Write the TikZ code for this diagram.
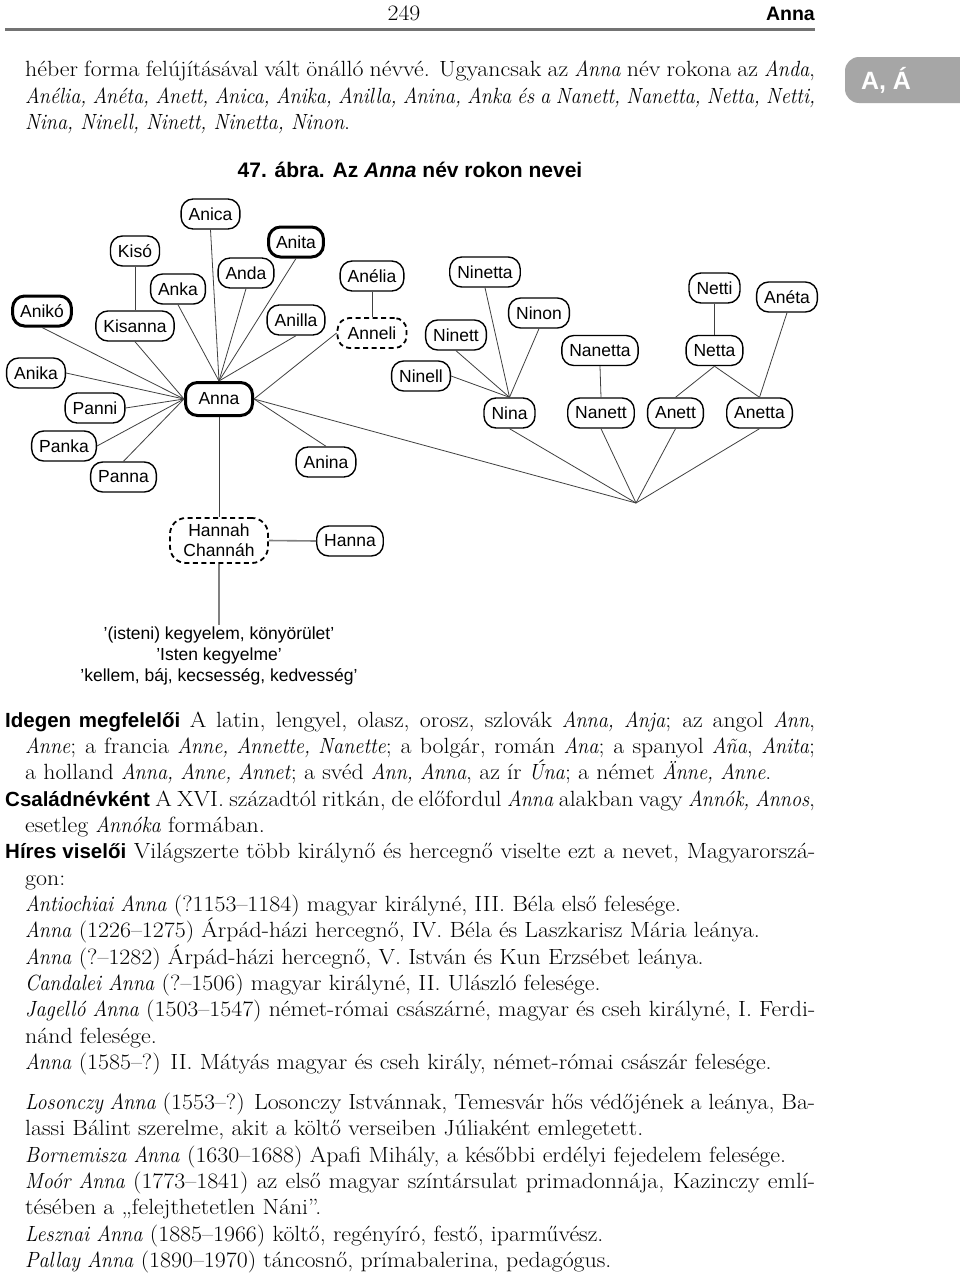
\documentclass[tikz,border=0pt]{standalone}
\usepackage{fontspec}
\newfontfamily\dsans{Liberation Sans}
\newfontfamily\bodyrm{Latin Modern Roman}[UprightFeatures={FakeStretch=1.085}, ItalicFeatures={FakeStretch=0.92}]
\newcommand\bodyfs{\bodyrm\fontsize{22}{26}\selectfont}
\newcommand\lab[1]{{\dsans\bfseries\fontsize{20.5}{26}\selectfont #1}}
\newcommand\JL[4]{\node[ln] (#1) at (#2) {\makebox[#3pt][s]{#4}};}
\newcommand\PL[3]{\node[ln] (#1) at (#2) {#3};}
\begin{document}
\begin{tikzpicture}[x=1pt,y=-1pt,
  nm/.style={draw=black, rounded corners=12pt, minimum height=30pt, inner xsep=7.5pt, inner ysep=0pt, line width=1.4pt, font=\dsans\fontsize{17.5}{21}\selectfont, fill=white},
  thk/.style={nm, line width=3pt},
  dsh/.style={nm, dash pattern=on 5pt off 3.5pt, line width=1.8pt},
  cn/.style={draw=black!75, line width=0.8pt},
  gcn/.style={draw=black!50, line width=1.6pt},
  ln/.style={anchor=base west, inner sep=0pt, font=\bodyfs},
]
\useasboundingbox (0,0) rectangle (960,1282);
\fill[white] (0,0) rectangle (960,1282);
% header
\node[anchor=base, inner sep=0pt, font=\bodyfs] (pg) at (404,20) {249};
\node[anchor=base east, inner sep=0pt, font=\dsans\bfseries\fontsize{19.5}{22}\selectfont] (hd) at (815,20) {Anna};
\draw[line width=3pt, black!55] (5,29) -- (815,29);
% tab
\fill[black!35, rounded corners=14pt] (845,57) rectangle (990,103);
\node[text=white, font=\dsans\bfseries\fontsize{25}{27}\selectfont, inner sep=0pt] (tab) at (886,80) {A, Á};
% paragraph 1
\JL{l1}{25,76.7}{790}{héber forma felújításával vált önálló névvé. Ugyancsak az \textit{Anna} név rokona az \textit{Anda},}
\JL{l2}{25,103}{790}{\textit{Anélia, Anéta, Anett, Anica, Anika, Anilla, Anina, Anka és a Nanett, Nanetta, Netta, Netti,}}
\PL{l3}{25,129.3}{\textit{Nina, Ninell, Ninett, Ninetta, Ninon}.}
% caption
\node[anchor=base, inner sep=0pt, font=\dsans\bfseries\fontsize{21}{24}\selectfont] (cap) at (410,177) {47. ábra. Az \textit{Anna} név rokon nevei};
% diagram nodes
\node[nm] (anica) at (210.5,214) {Anica};
\node[nm] (kiso) at (135,251) {Kisó};
\node[thk] (anita) at (296,242) {Anita};
\node[nm] (anda) at (246,273) {Anda};
\node[nm] (anka) at (178,289) {Anka};
\node[nm] (anelia) at (372,276) {Anélia};
\node[nm] (ninetta) at (485,272) {Ninetta};
\node[nm] (netti) at (714.5,288) {Netti};
\node[nm] (aneta) at (787,297) {Anéta};
\node[thk] (aniko) at (42,311) {Anikó};
\node[nm] (kisanna) at (135,326) {Kisanna};
\node[nm] (anilla) at (296,320) {Anilla};
\node[dsh, minimum width=69pt] (anneli) at (372,333) {Anneli};
\node[nm] (ninon) at (539,313) {Ninon};
\node[nm] (ninett) at (456,335) {Ninett};
\node[nm] (nanetta) at (600,350.5) {Nanetta};
\node[nm] (netta) at (714.5,350.5) {Netta};
\node[nm] (anika) at (36,373) {Anika};
\node[nm] (ninell) at (421,376) {Ninell};
\node[nm] (panni) at (95,408) {Panni};
\node[thk, minimum width=67pt, minimum height=33pt] (anna) at (219,399) {Anna};
\node[nm] (nina) at (509.5,413) {Nina};
\node[nm] (nanett) at (601,413) {Nanett};
\node[nm] (anett) at (675.5,413) {Anett};
\node[nm] (anetta) at (759.5,413) {Anetta};
\node[nm] (panka) at (64,446) {Panka};
\node[nm] (panna) at (123.5,477) {Panna};
\node[nm] (anina) at (326,462) {Anina};
\node[dsh, minimum width=98pt, minimum height=45pt, align=center, rounded corners=16pt] (hannah) at (219,540.5) {Hannah\\[-1pt]Channáh};
\node[nm] (hanna) at (350,541) {Hanna};
\coordinate (J) at (636,503);
\coordinate (mtop) at (219,625);
\node[align=center, inner sep=0pt, font=\dsans\fontsize{17.5}{21}\selectfont, anchor=north] (mean) at (219,627) {’(isteni) kegyelem, könyörület’\\’Isten kegyelme’\\’kellem, báj, kecsesség, kedvesség’};
% connectors
\draw[cn] (kiso.south) -- (kisanna.north);
\draw[cn] (aniko.south) -- (anna.west);
\draw[cn] (kisanna.south) -- (anna.west);
\draw[cn] (anika.east) -- (anna.west);
\draw[cn] (panni.east) -- (anna.west);
\draw[cn] (panka.east) -- (anna.west);
\draw[cn] (panna.north) -- (anna.west);
\draw[cn] (anka.south) -- (anna.north);
\draw[cn] (anica.south) -- (anna.north);
\draw[cn] (anda.south) -- (anna.north);
\draw[cn] (anita.south) -- (anna.north);
\draw[cn] (anilla.south) -- (anna.north);
\draw[cn] (anelia.south) -- (anneli.north);
\draw[cn] (anneli.west) -- (anna.east);
\draw[cn] (anina.north) -- (anna.east);
\draw[cn] (anna.east) -- (J);
\draw[cn] (anna.south) -- (hannah.north);
\draw[gcn] (hannah.east) -- (hanna.west);
\draw[gcn] (hannah.south) -- (mtop);
\draw[cn] (ninetta.south) -- (nina.north);
\draw[cn] (ninon.south) -- (nina.north);
\draw[cn] (ninett.south) -- (nina.north);
\draw[cn] (ninell.east) -- (nina.north);
\draw[cn] (nanetta.south) -- (nanett.north);
\draw[cn] (netti.south) -- (netta.north);
\draw[cn] (netta.south) -- (anett.north);
\draw[cn] (netta.south) -- (anetta.north);
\draw[cn] (aneta.south) -- (anetta.north);
\draw[cn] (nina.south) -- (J);
\draw[cn] (nanett.south) -- (J);
\draw[cn] (anett.south) -- (J);
\draw[cn] (anetta.south) -- (J);
% body text
\JL{b1}{5,727}{810}{\lab{Idegen megfelelői} A latin, lengyel, olasz, orosz, szlovák \textit{Anna, Anja}; az angol \textit{Ann},}
\JL{b2}{25,753.3}{790}{\textit{Anne}; a francia \textit{Anne, Annette, Nanette}; a bolgár, román \textit{Ana}; a spanyol \textit{Aña}, \textit{Anita};}
\PL{b3}{25,779.6}{a holland \textit{Anna, Anne, Annet}; a svéd \textit{Ann, Anna}, az ír \textit{Úna}; a német \textit{Änne, Anne}.}
\JL{b4}{5,806}{810}{\lab{Családnévként} A XVI. századtól ritkán, de előfordul \textit{Anna} alakban vagy \textit{Annók, Annos},}
\PL{b5}{25,832.3}{esetleg \textit{Annóka} formában.}
\JL{b6}{5,858.7}{810}{\lab{Híres viselői} Világszerte több királynő és hercegnő viselte ezt a nevet, Magyarorszá-}
\PL{b7}{25,885}{gon:}
\PL{b8}{25,911.4}{\textit{Antiochiai Anna} (?1153–1184) magyar királyné, III. Béla első felesége.}
\PL{b9}{25,937.7}{\textit{Anna} (1226–1275) Árpád-házi hercegnő, IV. Béla és Laszkarisz Mária leánya.}
\PL{b10}{25,964}{\textit{Anna} (?–1282) Árpád-házi hercegnő, V. István és Kun Erzsébet leánya.}
\PL{b11}{25,990.4}{\textit{Candalei Anna} (?–1506) magyar királyné, II. Ulászló felesége.}
\JL{b12}{25,1016.7}{790}{\textit{Jagelló Anna} (1503–1547) német-római császárné, magyar és cseh királyné, I. Ferdi-}
\PL{b13}{25,1043}{nánd felesége.}
\PL{b14}{25,1069.4}{\textit{Anna} (1585–?) II. Mátyás magyar és cseh király, német-római császár felesége.}
\JL{b15}{25,1109.5}{790}{\textit{Losonczy Anna} (1553–?) Losonczy Istvánnak, Temesvár hős védőjének a leánya, Ba-}
\PL{b16}{25,1135.9}{lassi Bálint szerelme, akit a költő verseiben Júliaként emlegetett.}
\PL{b17}{25,1162.2}{\textit{Bornemisza Anna} (1630–1688) Apafi Mihály, a későbbi erdélyi fejedelem felesége.}
\JL{b18}{25,1188.6}{790}{\textit{Moór Anna} (1773–1841) az első magyar színtársulat primadonnája, Kazinczy emlí-}
\PL{b19}{25,1214.9}{tésében a „felejthetetlen Náni”.}
\PL{b20}{25,1241.3}{\textit{Lesznai Anna} (1885–1966) költő, regényíró, festő, iparművész.}
\PL{b21}{25,1267.6}{\textit{Pallay Anna} (1890–1970) táncosnő, prímabalerina, pedagógus.}
\end{tikzpicture}
\end{document}
